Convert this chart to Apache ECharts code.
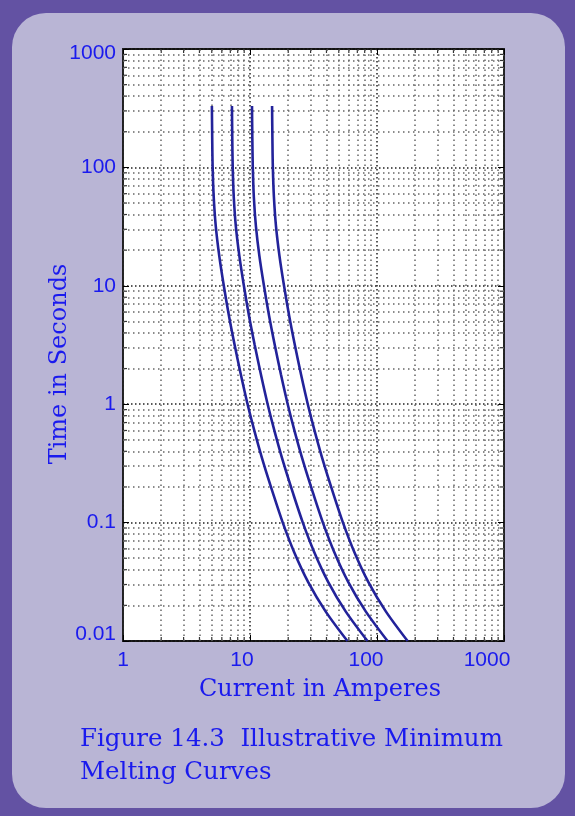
<!DOCTYPE html>
<html>
<head>
<meta charset="utf-8">
<title>Minimum Melting Curves</title>
<script src="https://cdn.jsdelivr.net/npm/echarts@6/dist/echarts.min.js"></script>
<style>
  html, body { margin: 0; padding: 0; background: #6352a3; }
  #chart { width: 575px; height: 816px; }
</style>
</head>
<body>
<div id="chart"></div>
<script>
// time points (s) shared by all four curves, about 4 per decade
const timeSec = [330, 178, 100, 56.2, 31.6, 17.8, 10, 5.62, 3.16, 1.78, 1, 0.562, 0.316, 0.178, 0.1, 0.0562, 0.0316, 0.0178, 0.01];
// current (A) of each curve at those times
const curve1 = [5.01, 5.04, 5.08, 5.18, 5.38, 5.73, 6.22, 6.82, 7.57, 8.47, 9.57, 10.99, 12.79, 15.14, 18.11, 22.28, 28.64, 39.36, 58.48];
const curve2 = [7.21, 7.25, 7.31, 7.45, 7.74, 8.25, 8.95, 9.81, 10.89, 12.19, 13.77, 15.81, 18.40, 21.78, 26.06, 32.06, 41.21, 56.63, 84.15];
const curve3 = [10.37, 10.43, 10.52, 10.72, 11.14, 11.86, 12.88, 14.12, 15.67, 17.53, 19.81, 22.75, 26.48, 31.34, 37.49, 46.12, 59.28, 81.48, 121.1];
const curve4 = [14.92, 15.01, 15.13, 15.43, 16.03, 17.07, 18.53, 20.32, 22.55, 25.23, 28.51, 32.74, 38.10, 45.10, 53.95, 66.37, 85.32, 117.3, 174.2];

// minor grid positions (log paper)
const minorX = [2, 3, 4, 5, 6, 7, 8, 9, 20, 30, 40, 50, 60, 70, 80, 90, 200, 300, 400, 500, 600, 700, 800, 900];
const minorY = [0.02, 0.03, 0.04, 0.05, 0.06, 0.07, 0.08, 0.09, 0.2, 0.3, 0.4, 0.5, 0.6, 0.7, 0.8, 0.9,
                2, 3, 4, 5, 6, 7, 8, 9, 20, 30, 40, 50, 60, 70, 80, 90, 200, 300, 400, 500, 600, 700, 800, 900];
const xMin = 1, xMax = 1000, yMin = 0.01, yMax = 1000;

const blue = '#1a1aee';
const curveColor = '#23239a';
const serif = '"DejaVu Serif"';

function toPairs(cur) {
  return timeSec.map((t, i) => [cur[i], t]);
}

const chart = echarts.init(document.getElementById('chart'));

const curveSeries = [curve1, curve2, curve3, curve4].map(c => ({
  type: 'line',
  data: toPairs(c),
  smooth: 0.3,
  showSymbol: false,
  lineStyle: { color: curveColor, width: 2.6 },
  z: 5
}));

// helper series only carrying the minor dotted grid
const gridSeries = {
  type: 'line',
  data: [],
  silent: true,
  markLine: {
    silent: true,
    symbol: ['none', 'none'],
    label: { show: false },
    animation: false,
    lineStyle: { color: '#666', width: 1.5, type: [1.5, 3.5] },
    data: minorX.map(v => ({ xAxis: v })).concat(minorY.map(v => ({ yAxis: v })))
  }
};

// small minor ticks on the inside of the frame
function tickSeries(data, size, offset) {
  return {
    type: 'scatter',
    data: data,
    symbol: 'rect',
    symbolSize: size,
    symbolOffset: offset,
    itemStyle: { color: '#000' },
    silent: true,
    clip: false,
    z: 4
  };
}
const minorTickSeries = [
  tickSeries(minorX.map(v => [v, yMin]), [1.2, 4], [0, -2]),
  tickSeries(minorX.map(v => [v, yMax]), [1.2, 4], [0, 2]),
  tickSeries(minorY.map(v => [xMin, v]), [4, 1.2], [2, 0]),
  tickSeries(minorY.map(v => [xMax, v]), [4, 1.2], [-2, 0])
];

const tickLabel = { color: blue, fontFamily: 'Liberation Sans', fontSize: 21 };

const option = {
  backgroundColor: '#6352a3',
  animation: false,
  graphic: [
    {
      type: 'rect',
      shape: { x: 12, y: 13, width: 553, height: 795, r: 34 },
      style: { fill: '#b9b5d5' },
      z: -10
    },
    {
      type: 'text',
      x: 60, y: 364,
      rotation: Math.PI / 2,
      style: {
        text: 'Time in Seconds',
        fill: blue,
        font: '24px ' + serif,
        align: 'center',
        verticalAlign: 'middle'
      }
    },
    {
      type: 'text',
      x: 320, y: 690,
      style: {
        text: 'Current in Amperes',
        fill: blue,
        font: '24px ' + serif,
        align: 'center',
        verticalAlign: 'middle'
      }
    },
    {
      type: 'text',
      x: 80, y: 723,
      style: {
        text: 'Figure 14.3  Illustrative Minimum\nMelting Curves',
        fill: blue,
        font: '24.5px ' + serif,
        lineHeight: 33,
        align: 'left',
        verticalAlign: 'top'
      }
    }
  ],
  grid: {
    left: 123, top: 49, right: 71, bottom: 175,
    show: true,
    backgroundColor: '#fff',
    borderColor: '#111',
    borderWidth: 1.8
  },
  xAxis: [
    {
      type: 'log',
      min: xMin, max: xMax,
      logBase: 10,
      axisLine: { show: false },
      axisTick: { show: true, inside: true, length: 6, lineStyle: { color: '#000' } },
      splitLine: { show: true, lineStyle: { color: '#222', width: 1.5, type: [1.5, 2.5] } },
      axisLabel: Object.assign({}, tickLabel, {
        margin: 9,
        showMinLabel: true,
        showMaxLabel: true,
        formatter: v => '{s' + Math.round(Math.log10(v)) + '|' + v + '}',
        rich: {
          s0: tickLabel,
          s1: Object.assign({ padding: [0, 16, 0, 0] }, tickLabel),
          s2: Object.assign({ padding: [0, 22, 0, 0] }, tickLabel),
          s3: Object.assign({ padding: [0, 34, 0, 0] }, tickLabel)
        }
      })
    },
    {
      type: 'log',
      min: xMin, max: xMax,
      position: 'top',
      axisLine: { show: false },
      axisTick: { show: true, inside: true, length: 6, lineStyle: { color: '#000' } },
      axisLabel: { show: false },
      splitLine: { show: false }
    }
  ],
  yAxis: [
    {
      type: 'log',
      min: yMin, max: yMax,
      logBase: 10,
      axisLine: { show: false },
      axisTick: { show: true, inside: true, length: 6, lineStyle: { color: '#000' } },
      splitLine: { show: true, lineStyle: { color: '#222', width: 1.5, type: [1.5, 2.5] } },
      axisLabel: Object.assign({}, tickLabel, {
        margin: 7,
        showMinLabel: true,
        showMaxLabel: true,
        formatter: v => {
          const e = Math.round(Math.log10(v));
          const txt = e < 0 ? v.toFixed(-e) : String(Math.round(v));
          if (e === 3) return '{top|' + txt + '}';
          if (e === -2) return '{bot|' + txt + '}';
          return txt;
        },
        rich: {
          top: Object.assign({ padding: [9, 0, 0, 0] }, tickLabel),
          bot: Object.assign({ padding: [0, 0, 14, 0] }, tickLabel)
        }
      })
    },
    {
      type: 'log',
      min: yMin, max: yMax,
      position: 'right',
      axisLine: { show: false },
      axisTick: { show: true, inside: true, length: 6, lineStyle: { color: '#000' } },
      axisLabel: { show: false },
      splitLine: { show: false }
    }
  ],
  series: [gridSeries].concat(minorTickSeries, curveSeries)
};

chart.setOption(option);
</script>
</body>
</html>
